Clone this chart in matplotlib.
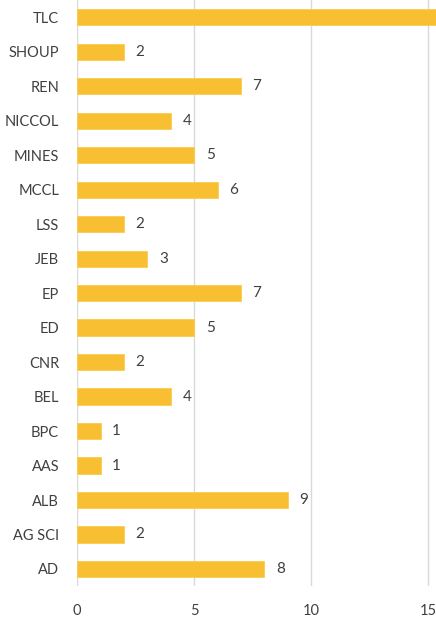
import matplotlib.pyplot as plt
import numpy as np

plt.rcParams['font.family'] = ['Lato', 'DejaVu Sans']

# categories bottom to top
schools = ['AD', 'AG SCI', 'ALB', 'AAS', 'BPC', 'BEL', 'CNR', 'ED', 'EP',
           'JEB', 'LSS', 'MCCL', 'MINES', 'NICCOL', 'REN', 'SHOUP', 'TLC']
counts = [8, 2, 9, 1, 1, 4, 2, 5, 7, 3, 2, 6, 5, 4, 7, 2, 16]
xticks = [0, 5, 10, 15]
xmax = 15.34

fig = plt.figure(figsize=(4.36, 6.21), dpi=100)
ax = fig.add_axes([0.177, 0.056, 0.823, 0.944])

y = np.arange(len(schools))
ax.barh(y, counts, height=0.47, color='#F9BF33', edgecolor='#FCCB4E',
        linewidth=0.6, zorder=3)

for yi, c in zip(y, counts):
    if c + 0.5 < xmax:  # label of the clipped bar falls outside the chart
        ax.text(c + 0.5, yi, str(c), va='center', ha='left', fontsize=11,
                color='#404040', zorder=4)

ax.set_xlim(0, xmax)
ax.set_ylim(-0.5, len(schools) - 0.5)
ax.set_yticks(y)
ax.set_yticklabels(schools)
ax.set_xticks(xticks)
ax.xaxis.grid(True, color='#D9D9D9', linewidth=1.0, zorder=0)
ax.set_axisbelow(True)
for s in ax.spines.values():
    s.set_visible(False)
ax.axvline(0, color='#D9D9D9', linewidth=1.2, zorder=1)
ax.tick_params(axis='both', length=0, labelsize=10.5, colors='#404040')
ax.tick_params(axis='y', pad=13)
ax.tick_params(axis='x', pad=13)

fig.savefig('out.png', dpi=100)
